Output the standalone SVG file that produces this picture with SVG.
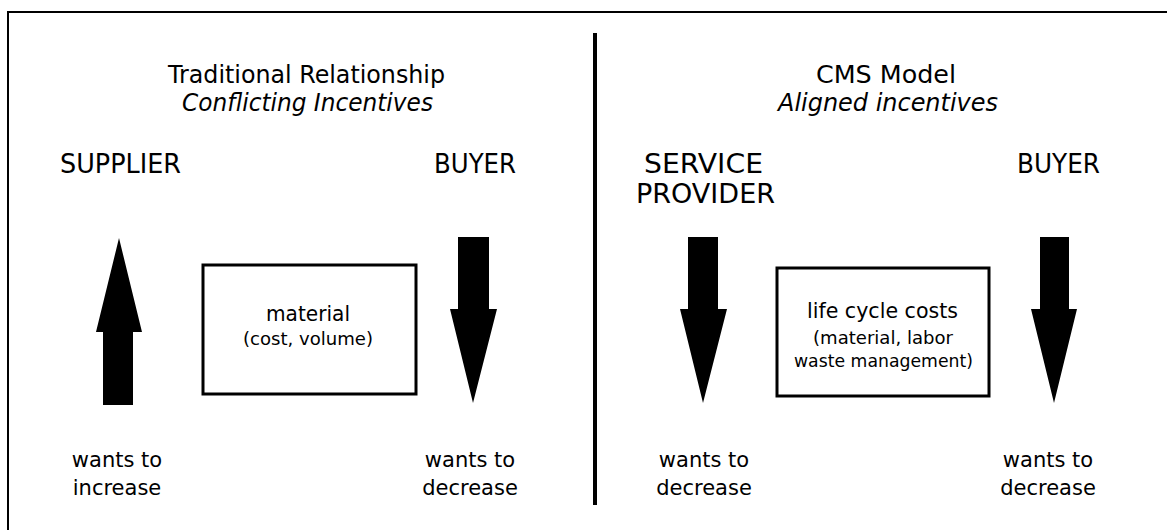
<svg xmlns="http://www.w3.org/2000/svg" width="1167" height="530" viewBox="0 0 1167 530">
<style>
text{font-family:"DejaVu Sans","Liberation Sans",sans-serif;fill:#000}
.t{font-size:24.5px}
.i{font-size:24.5px;font-style:italic}
.h{font-size:26px}
.b{font-size:20.5px}
.s{font-size:18px}
.w{font-size:21px;text-anchor:middle}
.box{fill:#fff;stroke:#000;stroke-width:3}
.arr{fill:#000}
</style>
<rect width="1167" height="530" fill="#fff"/>
<rect x="8" y="12" width="1175" height="540" fill="none" stroke="#000" stroke-width="2"/>
<g id="divider"><line x1="595" y1="33" x2="595" y2="505" stroke="#000" stroke-width="4"/></g>
<g id="left-title"><text class="t" x="168" y="83" textLength="277" lengthAdjust="spacingAndGlyphs">Traditional Relationship</text><text class="i" x="182" y="111" textLength="251" lengthAdjust="spacingAndGlyphs">Conflicting Incentives</text></g>
<g id="right-title"><text class="t" x="816" y="83" textLength="140" lengthAdjust="spacingAndGlyphs">CMS Model</text><text class="i" x="778" y="111" textLength="220" lengthAdjust="spacingAndGlyphs">Aligned incentives</text></g>
<g id="supplier"><text class="h" x="60" y="173" textLength="121" lengthAdjust="spacingAndGlyphs">SUPPLIER</text></g>
<g id="buyer-left"><text class="h" x="434" y="173" textLength="82" lengthAdjust="spacingAndGlyphs">BUYER</text></g>
<g id="service-provider"><text class="h" x="644" y="173" textLength="119" lengthAdjust="spacingAndGlyphs">SERVICE</text><text class="h" x="636" y="203" textLength="139" lengthAdjust="spacingAndGlyphs">PROVIDER</text></g>
<g id="buyer-right"><text class="h" x="1017" y="173" textLength="83" lengthAdjust="spacingAndGlyphs">BUYER</text></g>
<g id="connectors">
<polygon class="arr" points="119,238 142,332 133,332 133,405 103,405 103,332 96,332"/>
<polygon class="arr" points="458,237 489,237 489,309 497,309 473,403 450,309 458,309"/>
<polygon class="arr" points="688,237 718,237 718,309 727,309 703,403 680,309 688,309"/>
<polygon class="arr" points="1040,237 1069,237 1069,309 1077,309 1054,403 1031,309 1040,309"/>
</g>
<g id="material-box"><rect class="box" x="203" y="265" width="213" height="129"/><text class="b" x="266" y="321" textLength="84" lengthAdjust="spacingAndGlyphs">material</text><text class="s" x="243" y="345" textLength="130" lengthAdjust="spacingAndGlyphs">(cost, volume)</text></g>
<g id="lifecycle-box"><rect class="box" x="777" y="268" width="212" height="128"/><text class="b" x="807" y="318" textLength="151" lengthAdjust="spacingAndGlyphs">life cycle costs</text><text class="s" x="813" y="344" textLength="140" lengthAdjust="spacingAndGlyphs">(material, labor</text><text class="s" x="794" y="367" textLength="179" lengthAdjust="spacingAndGlyphs">waste management)</text></g>
<g id="supplier-note"><text class="w" x="117" y="467">wants to</text><text class="w" x="117" y="495">increase</text></g>
<g id="buyer-left-note"><text class="w" x="470" y="467">wants to</text><text class="w" x="470" y="495">decrease</text></g>
<g id="sp-note"><text class="w" x="704" y="467">wants to</text><text class="w" x="704" y="495">decrease</text></g>
<g id="buyer-right-note"><text class="w" x="1048" y="467">wants to</text><text class="w" x="1048" y="495">decrease</text></g>
</svg>
